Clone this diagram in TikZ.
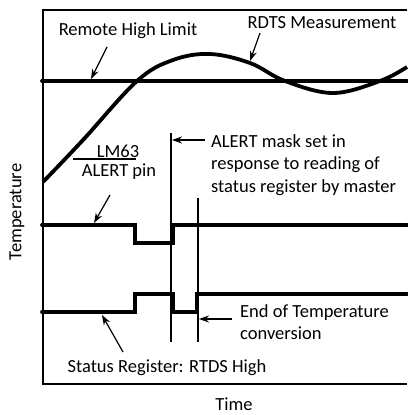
\documentclass[tikz,border=0pt]{standalone}
\usepackage{fontspec}
\setmainfont{Carlito}
\usetikzlibrary{arrows.meta}
\begin{document}
\begin{tikzpicture}[x=1pt,y=-1pt,
 thickline/.style={line width=3.8pt,line cap=round,line join=miter},
 frameline/.style={line width=2pt},
 guide/.style={line width=1.2pt},
 pointer/.style={line width=1.2pt,-{Stealth[length=10pt,width=7pt]}},
 lbl/.style={font=\fontsize{18.5}{22.5}\selectfont, inner sep=0pt}]
\useasboundingbox (0,0) rectangle (407,415);
% frame
\draw[frameline] (407,10) -- (43,10) -- (43,384) -- (407,384);
% limit line
\draw[thickline] (42,81) -- (407,81);
% measurement curve
\draw[thickline,line cap=butt] plot[smooth,tension=0.6] coordinates
 {(43,182) (83,140) (137,81) (173,60) (210,54) (250,63) (285,81) (333,93) (380,81) (407,67)};
% alert pin signal
\draw[thickline] (42,225) -- (135,225) -- (135,243) -- (173,243) -- (173,225) -- (407,225);
% status register signal
\draw[thickline] (42,312) -- (135,312) -- (135,294) -- (173,294) -- (173,312) -- (197,312) -- (197,294) -- (407,294);
% guide lines
\draw[guide] (171,133) -- (171,342);
\draw[guide] (198,198) -- (198,342);
% labels
\node[lbl] (rhl) at (128,31) {Remote High Limit};
\node[lbl] (rdts) at (322,23) {RDTS Measurement};
\node[lbl] (lm) at (118,151) {LM63};
\node[lbl] (alp) at (119,172) {ALERT pin};
\draw[guide] (73,159) -- (136,159);
\node[lbl,anchor=west,align=left] (mask) at (211,165) {ALERT mask set in\\response to reading of\\status register by master};
\node[lbl,anchor=west,align=left] (eoc) at (240,322) {End of Temperature\\conversion};
\node[lbl] (sr) at (167,368) {Status Register: RTDS High};
\node[lbl,rotate=90] (temp) at (17,212) {Temperature};
\node[lbl] (time) at (234,404) {Time};
% arrows
\coordinate (a1s) at (107,47); \coordinate (a1e) at (91,79);
\coordinate (a2s) at (260,33); \coordinate (a2e) at (250,61);
\coordinate (a3s) at (110,195); \coordinate (a3e) at (94,223);
\coordinate (a4s) at (205,140); \coordinate (a4e) at (172,140);
\coordinate (a5s) at (232,319); \coordinate (a5e) at (199,319);
\coordinate (a6s) at (123,352); \coordinate (a6e) at (102,315);
\draw[pointer] (a1s) -- (a1e);
\draw[pointer] (a2s) -- (a2e);
\draw[pointer] (a3s) -- (a3e);
\draw[pointer] (a4s) -- (a4e);
\draw[pointer] (a5s) -- (a5e);
\draw[pointer] (a6s) -- (a6e);
\end{tikzpicture}
\end{document}
